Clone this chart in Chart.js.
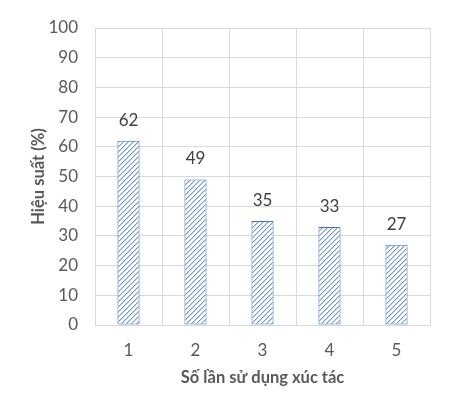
<!DOCTYPE html>
<html>
<head>
<meta charset="utf-8">
<script src="https://cdn.jsdelivr.net/npm/chart.js@4"></script>
<style>
	html, body { margin: 0; padding: 0; background: #fff; }
	#wrap { width: 459px; height: 400px; }
</style>
</head>
<body>
<div id="wrap"><canvas id="chart" width="459" height="400"></canvas></div>
<script>
const categories = ["1", "2", "3", "4", "5"];
const efficiency = [62, 49, 35, 33, 27];
const yTitle = "Hiệu suất (%)";
const xTitle = "Số lần sử dụng xúc tác";

const FONT = "Lato, 'Open Sans', sans-serif";

// hatch pattern /// drawn pixel by pixel so it stays crisp
function makeHatch() {
	const n = 5;
	const c = document.createElement("canvas");
	c.width = n;
	c.height = n;
	const g = c.getContext("2d");
	g.fillStyle = "#ffffff";
	g.fillRect(0, 0, n, n);
	for (let y = 0; y < n; y++) {
		g.fillStyle = "#6a90d6";
		g.fillRect(n - 1 - y, y, 1, 1);
		g.fillStyle = "#ccdaf2";
		g.fillRect((n - y) % n, y, 1, 1);
	}
	return g.createPattern(c, "repeat");
}

const valueLabels = {
	id: "valueLabels",
	afterDatasetsDraw(chart) {
		const ctx = chart.ctx;
		const meta = chart.getDatasetMeta(0);
		ctx.save();
		ctx.font = "17px " + FONT;
		ctx.fillStyle = "#404040";
		ctx.textAlign = "center";
		ctx.textBaseline = "bottom";
		meta.data.forEach((bar, i) => {
			ctx.fillText(efficiency[i], bar.x, bar.y - 12);
		});
		ctx.restore();
	},
};

const context = document.getElementById("chart").getContext("2d");
const hatch = makeHatch();

new Chart(context, {
	type: "bar",
	data: {
		labels: categories,
		datasets: [
			{
				data: efficiency,
				backgroundColor: hatch,
				borderColor: "#4472c4",
				borderWidth: 1,
				borderSkipped: false,
				categoryPercentage: 1,
				barPercentage: 0.33,
			},
		],
	},
	options: {
		responsive: false,
		animation: false,
		layout: {
			padding: { top: 28, right: 29, left: 0, bottom: 0 },
		},
		plugins: {
			legend: { display: false },
			tooltip: { enabled: false },
		},
		scales: {
			x: {
				grid: { color: "#d9d9d9", drawTicks: false, offset: true },
				border: { color: "#d9d9d9" },
				ticks: {
					color: "#595959",
					font: { family: FONT, size: 17 },
					padding: 15,
				},
				title: {
					display: true,
					text: xTitle,
					color: "#595959",
					font: { family: FONT, size: 16.5, weight: "bold" },
					padding: { top: 4, bottom: 12 },
				},
				afterFit(scale) {
					scale.height = 75;
				},
			},
			y: {
				min: 0,
				max: 100,
				ticks: {
					stepSize: 10,
					color: "#595959",
					font: { family: FONT, size: 17 },
					padding: 17,
				},
				grid: { color: "#d9d9d9", drawTicks: false },
				border: { color: "#d9d9d9" },
				title: {
					display: true,
					text: yTitle,
					color: "#595959",
					font: { family: FONT, size: 16.5, weight: "bold" },
					padding: { top: 29, bottom: 0 },
				},
				afterFit(scale) {
					scale.width = 95;
				},
			},
		},
	},
	plugins: [valueLabels],
});
</script>
</body>
</html>
